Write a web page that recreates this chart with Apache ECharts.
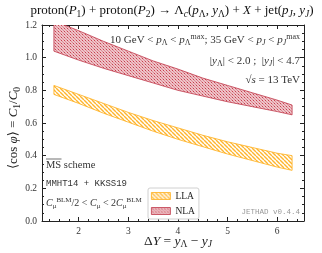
<!DOCTYPE html>
<html><head><meta charset="utf-8">
<script src="https://cdn.jsdelivr.net/npm/echarts@6/dist/echarts.min.js"></script>
<style>html,body{margin:0;padding:0;background:#fff}#c{width:322px;height:253px}</style>
</head><body><div id="c"></div>
<script>
// ---- data ----
const dY       = [1.5, 2.0, 2.5, 3.0, 3.5, 4.0, 4.5, 5.0, 5.5, 6.0, 6.3];
const nlaUpper = [1.225, 1.165, 1.10, 1.04, 0.98, 0.93, 0.875, 0.83, 0.785, 0.74, 0.71];
const nlaLower = [1.04, 0.985, 0.935, 0.89, 0.845, 0.80, 0.765, 0.73, 0.70, 0.67, 0.65];
const llaUpper = [0.83, 0.775, 0.72, 0.665, 0.615, 0.57, 0.525, 0.485, 0.45, 0.415, 0.40];
const llaLower = [0.775, 0.72, 0.66, 0.605, 0.55, 0.50, 0.455, 0.41, 0.37, 0.33, 0.31];
const xMajor = [2, 3, 4, 5, 6];
const xMinor = [1.4,1.6,1.8,2.2,2.4,2.6,2.8,3.2,3.4,3.6,3.8,4.2,4.4,4.6,4.8,5.2,5.4,5.6,5.8,6.2,6.4];
const seriesNames = ['LLA', 'NLA'];

const SERIF = "'Liberation Serif','DejaVu Serif',serif";
const MONO = "'Liberation Mono','DejaVu Sans Mono',monospace";
const AX = '#222';

function llaPattern(){
  const c = document.createElement('canvas'); c.width = 4; c.height = 4;
  const g = c.getContext('2d');
  g.fillStyle = '#fff'; g.fillRect(0,0,4,4);
  g.strokeStyle = '#ffb52e'; g.lineWidth = 1.4;
  for (const o of [-4, 0, 4]) { g.beginPath(); g.moveTo(o, 0); g.lineTo(o + 4, 4); g.stroke(); }
  return {image: c, repeat: 'repeat'};
}
function nlaPattern(){
  const c = document.createElement('canvas'); c.width = 3; c.height = 3;
  const g = c.getContext('2d');
  g.fillStyle = '#efc3c8'; g.fillRect(0,0,3,3);
  g.fillStyle = '#c8404f'; g.fillRect(1,1,1,1);
  g.fillStyle = '#da8a94'; g.fillRect(0,0,1,1); g.fillRect(2,2,1,1);
  return {image: c, repeat: 'repeat'};
}
const patLLA = llaPattern(), patNLA = nlaPattern();
const edgeLLA = '#ffae1a', edgeNLA = '#c0394a';

function band(name, up, lo, fill, edge){
  return {
    type: 'custom', name: name, clip: true,
    xAxisIndex: 0, yAxisIndex: 0,
    data: [[dY[0], up[0]]],
    itemStyle: {color: fill, borderColor: edge},
    renderItem: function(params, api){
      const pts = [];
      for (let i = 0; i < dY.length; i++) pts.push(api.coord([dY[i], up[i]]));
      for (let i = dY.length - 1; i >= 0; i--) pts.push(api.coord([dY[i], lo[i]]));
      const cs = params.coordSys;
      return {type: 'polygon', shape: {points: pts},
        clipPath: {type: 'rect', shape: {x: cs.x, y: cs.y, width: cs.width, height: cs.height}},
        style: {fill: fill, stroke: edge, lineWidth: 0.8}};
    }
  };
}

function richBase(fs, color){
  const ss = Math.round(fs * 0.72 * 2) / 2;
  const lh = fs * 1.25;
  const sb = {fontSize: ss, fontFamily: SERIF, verticalAlign: 'bottom', lineHeight: ss + 1, fill: color};
  return {
    i: {fontStyle: 'italic', fontFamily: SERIF, fontSize: fs, fill: color, lineHeight: lh},
    sb: sb,
    sbi: Object.assign({}, sb, {fontStyle: 'italic'}),
    sp: {fontSize: ss, fontFamily: SERIF, verticalAlign: 'top', lineHeight: ss + 1, fill: color}
  };
}

const chart = echarts.init(document.getElementById('c'), null, {renderer: 'canvas'});
const xBase = {type: 'value', min: 1.26, max: 6.54, gridIndex: 0, splitLine: {show: false}};
const yBase = {type: 'value', min: 0, max: 1.2, interval: 0.2, splitLine: {show: false}};
chart.setOption({
  animation: false,
  backgroundColor: '#fff',
  grid: {left: 42, right: 18, top: 25, bottom: 32},
  xAxis: [
    Object.assign({}, xBase, {position: 'bottom', axisLine: {lineStyle: {color: AX, width: 1}},
      axisTick: {inside: true, length: 4, customValues: xMajor, lineStyle: {color: AX}},
      axisLabel: {customValues: xMajor, fontFamily: SERIF, fontSize: 9.5, color: '#333', margin: 5}}),
    Object.assign({}, xBase, {position: 'bottom', axisLine: {show: false},
      axisTick: {inside: true, length: 2, customValues: xMinor, lineStyle: {color: AX}}, axisLabel: {show: false}}),
    Object.assign({}, xBase, {position: 'top', axisLine: {lineStyle: {color: AX, width: 1}},
      axisTick: {inside: true, length: 4, customValues: xMajor, lineStyle: {color: AX}}, axisLabel: {show: false}}),
    Object.assign({}, xBase, {position: 'top', axisLine: {show: false},
      axisTick: {inside: true, length: 2, customValues: xMinor, lineStyle: {color: AX}}, axisLabel: {show: false}})
  ],
  yAxis: [
    Object.assign({}, yBase, {position: 'left', axisLine: {show: true, lineStyle: {color: AX}},
      axisTick: {show: true, inside: true, length: 4, lineStyle: {color: AX}},
      minorTick: {show: true, splitNumber: 4, length: 2, lineStyle: {color: AX}},
      axisLabel: {fontFamily: SERIF, fontSize: 9.5, color: '#333', margin: 5, formatter: v => v.toFixed(1)}}),
    Object.assign({}, yBase, {position: 'right', axisLine: {show: true, lineStyle: {color: AX}},
      axisTick: {show: true, inside: true, length: 4, lineStyle: {color: AX}},
      minorTick: {show: true, splitNumber: 4, length: 2, lineStyle: {color: AX}},
      axisLabel: {show: false}})
  ],
  legend: {
    left: 148, top: 188, orient: 'vertical', itemWidth: 19, itemHeight: 7, itemGap: 5,
    padding: [3, 4, 3, 3], backgroundColor: '#fff', borderColor: '#d0d0d0', borderWidth: 1, borderRadius: 2,
    textStyle: {fontFamily: SERIF, fontSize: 9.5, color: '#222'},
    data: [
      {name: seriesNames[0], icon: 'rect', itemStyle: {color: patLLA, borderColor: edgeLLA, borderWidth: 0.8}},
      {name: seriesNames[1], icon: 'rect', itemStyle: {color: patNLA, borderColor: edgeNLA, borderWidth: 0.8}}
    ]
  },
  series: [
    band(seriesNames[0], llaUpper, llaLower, patLLA, edgeLLA),
    band(seriesNames[1], nlaUpper, nlaLower, patNLA, edgeNLA)
  ],
  graphic: [
    {type: 'text', z: 100, style: {x: 172, y: 11, align: 'center', verticalAlign: 'middle',
      fontFamily: SERIF, fontSize: 13, fill: '#111',
      text: 'proton({i|P}{sb|1}) + proton({i|P}{sb|2}) → Λ{sbi|c}({i|p}{sb|Λ}, {i|y}{sb|Λ}) + {i|X} + jet({i|p}{sbi|J}, {i|y}{sbi|J})',
      rich: richBase(13, '#111')}},
    {type: 'text', z: 100, style: {x: 300, y: 40, align: 'right', verticalAlign: 'middle',
      fontFamily: SERIF, fontSize: 11, fill: '#333',
      text: '10 GeV < {i|p}{sb|Λ} < {i|p}{sb|Λ}{sp|max}; 35 GeV < {i|p}{sbi|J} < {i|p}{sbi|J}{sp|max}',
      rich: richBase(11, '#333')}},
    {type: 'text', z: 100, style: {x: 300, y: 61, align: 'right', verticalAlign: 'middle',
      fontFamily: SERIF, fontSize: 11, fill: '#333',
      text: '|{i|y}{sb|Λ}| < 2.0 ;  |{i|y}{sbi|J}| < 4.7', rich: richBase(11, '#333')}},
    {type: 'text', z: 100, style: {x: 300, y: 80, align: 'right', verticalAlign: 'middle',
      fontFamily: SERIF, fontSize: 11, fill: '#333',
      text: '√{i|s} = 13 TeV', rich: richBase(11, '#333')}},
    {type: 'text', z: 100, style: {x: 46, y: 165, align: 'left', verticalAlign: 'middle',
      fontFamily: SERIF, fontSize: 10.5, fill: '#333', text: 'MS scheme'}},
    {type: 'line', z: 100, shape: {x1: 46, y1: 159, x2: 61.5, y2: 159}, style: {stroke: '#333', lineWidth: 0.7}},
    {type: 'text', z: 100, style: {x: 46, y: 184, align: 'left', verticalAlign: 'middle',
      fontFamily: MONO, fontSize: 9, fill: '#333', text: 'MMHT14 + KKSS19'}},
    {type: 'text', z: 100, style: {x: 46, y: 203, align: 'left', verticalAlign: 'middle',
      fontFamily: SERIF, fontSize: 10, fill: '#333',
      text: '{i|C}{sb|μ}{sp|BLM}/2 < {i|C}{sb|μ} < 2{i|C}{sb|μ}{sp|BLM}', rich: richBase(10, '#333')}},
    {type: 'text', z: 100, style: {x: 300, y: 212, align: 'right', verticalAlign: 'middle',
      fontFamily: MONO, fontSize: 7.5, fill: '#999', text: 'JETHAD v0.4.4'}},
    {type: 'text', z: 100, rotation: Math.PI / 2, x: 14, y: 128, style: {x: 0, y: 0, align: 'center', verticalAlign: 'middle',
      fontFamily: SERIF, fontSize: 13, fill: '#222',
      text: '⟨cos {i|φ}⟩ = {i|C}{sb|1}/{i|C}{sb|0}', rich: richBase(13, '#222')}},
    {type: 'text', z: 100, style: {x: 178, y: 241, align: 'center', verticalAlign: 'middle',
      fontFamily: SERIF, fontSize: 13.5, fill: '#222',
      text: 'Δ{i|Y} = {i|y}{sb|Λ} − {i|y}{sbi|J}', rich: richBase(13.5, '#222')}}
  ]
});
</script></body></html>
